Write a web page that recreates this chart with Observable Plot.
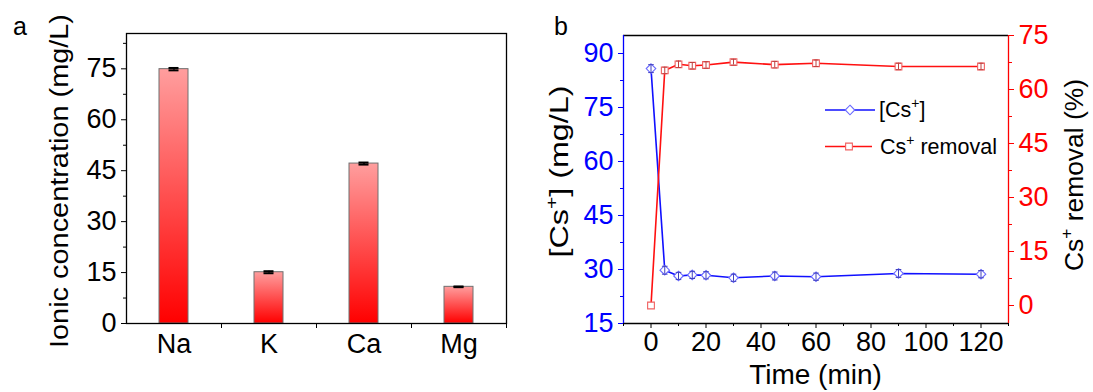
<!DOCTYPE html>
<html><head><meta charset="utf-8">
<script src="https://cdn.jsdelivr.net/npm/d3@7"></script>
<script src="https://cdn.jsdelivr.net/npm/@observablehq/plot@0.6"></script>
<style>
body{margin:0;background:#fff;}
#fig{position:relative;width:1093px;height:392px;font-family:"Liberation Sans",Arial,sans-serif;background:#fff;}
#fig svg{position:absolute;top:0;overflow:visible;}
</style></head><body><div id="fig"></div>
<script>
// ---------- Panel a data ----------
const ions = ["Na", "K", "Ca", "Mg"];
const ionConc = [74.9, 15.1, 47.1, 10.8];
const ionErr = [0.35, 0.3, 0.3, 0.1];
const aMajorTicks = [0, 15, 30, 45, 60, 75];
const aMinorTicks = [7.5, 22.5, 37.5, 52.5, 67.5, 82.5];

// ---------- Panel b data ----------
const time = [0, 5, 10, 15, 20, 30, 45, 60, 90, 120];
const csConc = [85.8, 29.8, 28.2, 28.5, 28.4, 27.7, 28.2, 28.0, 28.9, 28.7];
const csErr = [1.1, 1.1, 1.0, 1.0, 1.0, 1.0, 1.1, 1.0, 1.1, 1.0];
const removal = [0, 65.3, 67.0, 66.6, 66.8, 67.6, 66.9, 67.3, 66.4, 66.4];
const removalErr = [0, 0.9, 0.9, 0.9, 0.9, 0.8, 0.9, 0.9, 0.9, 0.9];
const timeTicks = [0, 20, 40, 60, 80, 100, 120];
const timeMinor = [-10, 10, 30, 50, 70, 90, 110, 130];
const csTicks = [15, 30, 45, 60, 75, 90];
const csMinor = [22.5, 37.5, 52.5, 67.5, 82.5];
const remTicks = [0, 15, 30, 45, 60, 75];
const remMinor = [7.5, 22.5, 37.5, 52.5, 67.5];

const FONT = '"Liberation Sans", Arial, sans-serif';
const TICKFS = 27;
const BLUE = "#0000ff", RED = "#ff0000";
const fig = document.getElementById("fig");
const baseStyle = {fontFamily: FONT, fontSize: TICKFS + "px", color: "black", background: "transparent", overflow: "visible"};

function rotLabel(sel, x, y, size, len, parts) {
  const t = sel.append("text").attr("transform", `translate(${x},${y}) rotate(-90)`)
    .attr("text-anchor", "middle").attr("font-size", size).attr("font-family", FONT)
    .attr("textLength", len).attr("lengthAdjust", "spacingAndGlyphs");
  parts(t);
  return t;
}

// ---------- Panel a ----------
const aData = ions.map((ion, i) => ({ion, v: ionConc[i], e: ionErr[i]}));
const pa = Plot.plot({
  width: 540, height: 392,
  marginLeft: 126, marginRight: 34, marginTop: 33, marginBottom: 69,
  style: baseStyle,
  x: {domain: ions, paddingInner: 0.7, paddingOuter: 0.35, axis: null},
  y: {domain: [0, 85.4], axis: null},
  marks: [
    Plot.barY(aData, {x: "ion", y: "v", fill: "url(#barGrad)", stroke: "#707070", strokeWidth: 1}),
    Plot.ruleX(aData, {x: "ion", y1: d => d.v - d.e, y2: d => d.v + d.e, stroke: "black", strokeWidth: 1.5}),
    Plot.tickY(aData, {x: "ion", y: d => d.v + d.e, stroke: "black", strokeWidth: 2, insetLeft: 9.5, insetRight: 9.5}),
    Plot.tickY(aData, {x: "ion", y: d => d.v - d.e, stroke: "black", strokeWidth: 2, insetLeft: 9.5, insetRight: 9.5}),
    Plot.frame({stroke: "black", strokeWidth: 1.3}),
    Plot.axisY({ticks: aMajorTicks, tickSize: 5, tickPadding: 5, fontSize: TICKFS, label: null}),
    Plot.axisY({ticks: aMinorTicks, tickSize: 3, tickFormat: () => "", label: null}),
    Plot.axisX({tickSize: 0, tickPadding: 10, fontSize: TICKFS, label: null}),
    Plot.axisX({tickSize: 5, tickFormat: () => "", dx: 47.5, label: null})
  ]
});
pa.style.left = "0px";
d3.select(pa).insert("defs", ":first-child").html(
  '<linearGradient id="barGrad" x1="0" y1="0" x2="0" y2="1">' +
  '<stop offset="0%" stop-color="#ff9e9e"/><stop offset="100%" stop-color="#ff0000"/></linearGradient>');
const sa = d3.select(pa);
sa.append("text").attr("x", 13).attr("y", 35).attr("text-anchor", "start").attr("font-size", 25).attr("font-family", FONT).text("a");
rotLabel(sa, 68, 181, 25.5, 334, t => t.text("Ionic concentration (mg/L)"));
fig.appendChild(pa);

// ---------- Panel b ----------
const bData = time.map((t, i) => ({t, c: csConc[i], ce: csErr[i], r: removal[i], re: removalErr[i]}));
const capSymbol = {draw(ctx, size) { const r = Math.sqrt(size / Math.PI); ctx.moveTo(-r, 0); ctx.lineTo(r, 0); }};
const bCommon = {
  width: 553, height: 392,
  marginLeft: 83, marginRight: 85, marginTop: 35, marginBottom: 69,
  style: baseStyle,
  x: {domain: [-10, 130], axis: null}
};
const pb1 = Plot.plot({
  ...bCommon,
  y: {domain: [15, 95], axis: null},
  marks: [
    Plot.ruleY([95], {stroke: "black", strokeWidth: 1.3}),
    Plot.ruleY([15], {stroke: "black", strokeWidth: 1.3}),
    Plot.ruleX([-10], {stroke: BLUE, strokeWidth: 1.3}),
    Plot.axisX({ticks: timeTicks, tickSize: 5, tickPadding: 3, fontSize: TICKFS, label: null}),
    Plot.axisX({ticks: timeMinor, tickSize: 3, tickFormat: () => "", label: null}),
    Plot.axisY({ticks: csTicks, tickSize: 5, tickPadding: 5, fontSize: TICKFS, color: BLUE, label: null}),
    Plot.axisY({ticks: csMinor, tickSize: 3, tickFormat: () => "", color: BLUE, label: null}),
    Plot.line(bData, {x: "t", y: "c", stroke: "#1010ff", strokeWidth: 1.6}),
    Plot.dot(bData, {x: "t", y: "c", symbol: "diamond2", r: 4.3, stroke: "#6a6aff", fill: "white", strokeWidth: 1.1}),
    Plot.ruleX(bData, {x: "t", y1: d => d.c - d.ce, y2: d => d.c + d.ce, stroke: "#4040c0", strokeWidth: 1}),
    Plot.dot(bData, {x: "t", y: d => d.c + d.ce, symbol: capSymbol, r: 2.8, stroke: "#4040c0", strokeWidth: 1}),
    Plot.dot(bData, {x: "t", y: d => d.c - d.ce, symbol: capSymbol, r: 2.8, stroke: "#4040c0", strokeWidth: 1})
  ]
});
pb1.style.left = "540px";
const s1 = d3.select(pb1);
s1.append("text").attr("x", 14).attr("y", 35).attr("text-anchor", "start").attr("font-size", 25).attr("font-family", FONT).text("b");
rotLabel(s1, 28, 171.5, 26, 172, t => {
  t.append("tspan").text("[Cs");
  t.append("tspan").attr("dy", -11).attr("font-size", 17).text("+");
  t.append("tspan").attr("dy", 11).text("] (mg/L)");
});
s1.append("text").attr("x", 275.5).attr("y", 384).attr("text-anchor", "middle")
  .attr("font-size", 28).attr("font-family", FONT).text("Time (min)");
fig.appendChild(pb1);

const remData = bData.filter(d => d.re > 0);
const pb2 = Plot.plot({
  ...bCommon,
  y: {domain: [-5, 75], axis: null},
  marks: [
    Plot.ruleX([130], {stroke: RED, strokeWidth: 1.3}),
    Plot.axisY({anchor: "right", ticks: remTicks, tickSize: 5, tickPadding: 5, fontSize: TICKFS, color: RED, label: null}),
    Plot.axisY({anchor: "right", ticks: remMinor, tickSize: 3, tickFormat: () => "", color: RED, label: null}),
    Plot.line(bData, {x: "t", y: "r", stroke: "#ff1010", strokeWidth: 1.6}),
    Plot.dot(bData, {x: "t", y: "r", symbol: "square", r: 3.8, stroke: "#f06060", fill: "white", strokeWidth: 1.1}),
    Plot.ruleX(remData, {x: "t", y1: d => d.r - d.re, y2: d => d.r + d.re, stroke: "#c04040", strokeWidth: 1}),
    Plot.dot(remData, {x: "t", y: d => d.r + d.re, symbol: capSymbol, r: 2.5, stroke: "#c04040", strokeWidth: 1}),
    Plot.dot(remData, {x: "t", y: d => d.r - d.re, symbol: capSymbol, r: 2.5, stroke: "#c04040", strokeWidth: 1})
  ]
});
pb2.style.left = "540px";
const s2 = d3.select(pb2);
rotLabel(s2, 543, 175, 26, 192, t => {
  t.append("tspan").text("Cs");
  t.append("tspan").attr("dy", -11).attr("font-size", 17).text("+");
  t.append("tspan").attr("dy", 11).text(" removal (%)");
});

// legend
const leg = s2.append("g").attr("font-family", FONT).attr("font-size", 21.5).attr("text-anchor", "start");
leg.append("line").attr("x1", 285).attr("x2", 335).attr("y1", 110).attr("y2", 110).attr("stroke", "#1010ff").attr("stroke-width", 1.6);
leg.append("path").attr("transform", "translate(310,110)").attr("d", d3.symbol(d3.symbolDiamond2, Math.PI * 4.3 * 4.3)())
  .attr("fill", "white").attr("stroke", "#6a6aff").attr("stroke-width", 1.1);
const t1 = leg.append("text").attr("x", 339).attr("y", 117);
t1.append("tspan").text("[Cs");
t1.append("tspan").attr("dy", -9).attr("font-size", 14).text("+");
t1.append("tspan").attr("dy", 9).text("]");
leg.append("line").attr("x1", 285).attr("x2", 332).attr("y1", 146.5).attr("y2", 146.5).attr("stroke", "#ff1010").attr("stroke-width", 1.6);
leg.append("path").attr("transform", "translate(309,146.5)").attr("d", d3.symbol(d3.symbolSquare, Math.PI * 3.8 * 3.8)())
  .attr("fill", "white").attr("stroke", "#f06060").attr("stroke-width", 1.1);
const t2 = leg.append("text").attr("x", 340).attr("y", 153.5);
t2.append("tspan").text("Cs");
t2.append("tspan").attr("dy", -9).attr("font-size", 14).text("+");
t2.append("tspan").attr("dy", 9).text(" removal");
fig.appendChild(pb2);
</script></body></html>
